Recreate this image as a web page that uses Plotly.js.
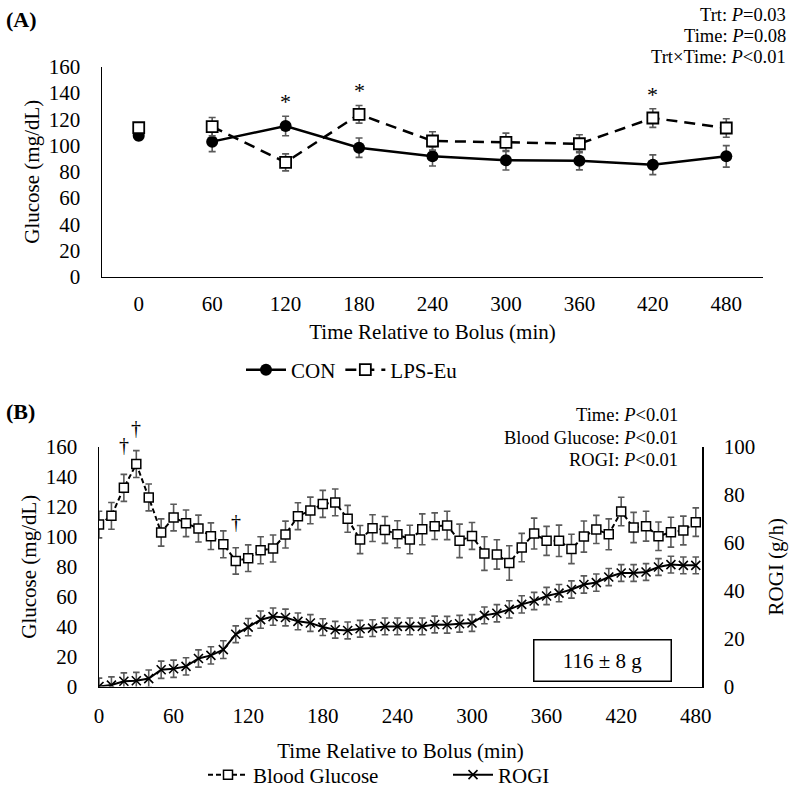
<!DOCTYPE html>
<html>
<head>
<meta charset="utf-8">
<script src="https://cdn.plot.ly/plotly-3.0.1.min.js"></script>
<style>html,body{margin:0;padding:0;background:#fff}#chart{width:794px;height:788px}</style>
</head>
<body>
<div id="chart"></div>
<script>
// ---------- Panel A data ----------
const timeA = [60, 120, 180, 240, 300, 360, 420, 480];
const tickA = [0, 60, 120, 180, 240, 300, 360, 420, 480];
const conBase = 107.4, conBaseErr = 3;
const lpsBase = 113.5, lpsBaseErr = 3;
const conMean = [102.9, 114.8, 98.3, 91.7, 88.7, 88.4, 85.3, 91.7];
const conErr  = [7.6, 7.4, 7.4, 7.4, 7.4, 7.0, 7.5, 8.2];
const lpsMean = [114.3, 87.1, 123.7, 103.4, 102.4, 101.3, 120.9, 113.3];
const lpsErr  = [7.0, 6.5, 6.7, 7.0, 7.0, 6.9, 7.1, 7.0];
const starTimes = [120, 180, 420];
const starY = [133.5, 142, 138.5];

// ---------- Panel B data ----------
const timeB = [0,10,20,30,40,50,60,70,80,90,100,110,120,130,140,150,160,170,180,190,200,210,220,230,240,250,260,270,280,290,300,310,320,330,340,350,360,370,380,390,400,410,420,430,440,450,460,470,480];
const bgMean = [108.2,114,132.7,148.6,126.3,102.9,112.9,109,105.5,100.4,95,83.9,85.7,91,92.2,101.5,113.8,117.6,122,123,112,98.2,105.8,104.6,101.7,98.2,105,107.1,107.6,97.3,100.6,88.8,88.2,82.5,92.8,102.2,97.3,97.3,91.9,100.2,104.9,101.7,116.9,106.2,107.1,100.4,103.1,104.2,109.8];
const bgErr  = [8.9,8.9,9,9,9,9.1,8.9,8.9,9,8.9,9,8.8,8.9,9,9,9,9,8.9,9,8.9,9,9.4,8.9,9,9,9.5,10.3,8.9,9.5,11.2,9,11.2,9.8,11.5,9.5,10.3,9.7,10.5,9.8,10.4,9.4,10.3,9.5,10.1,10,9.5,10,9.6,9.5];
const rogiMean = [0,0.6,2.2,2.4,3.3,7,7.4,8.4,11.7,13,15.4,21.8,24.8,27.9,29.2,28.8,27.2,26.5,24.8,23.7,23.4,24.1,24.4,25.1,25.1,25.1,25.1,25.9,25.8,26.2,26.5,29.7,30.6,32.2,34.3,35.7,37.8,39,40.5,42.6,43.4,45.7,47.4,47.4,47.8,49.9,50.9,50.6,50.6];
const rogiErr  = [3.5,3.4,3.5,3.5,3.6,3.6,3.6,3.6,3.6,3.6,3.7,3.5,3.6,3.6,3.6,3.5,3.5,3.5,3.5,3.5,3.5,3.5,3.5,3.5,3.5,3.5,3.5,3.5,3.5,3.5,3.5,3.5,3.6,3.6,3.6,3.6,3.6,3.6,3.6,3.6,3.6,3.6,3.5,3.5,3.5,3.5,3.5,3.5,3.5];
const daggerTimes = [20, 30, 110];
const daggerY = [159, 159, 110];
const daggerLift = [4, 21, 0];
const totalLabel = "116 ± 8 g";

// ---------- styling ----------
const FONT = "Liberation Serif, Times New Roman, serif";
const ERRC = "#5a5a5a";
const W = 794, H = 788;
const px = v => v / W;
const py = v => 1 - v / H;

function eb(arr, w) { return {type: "data", array: arr, visible: true, color: ERRC, thickness: 1.6, width: w}; }

const traces = [
  // Panel A
  {x: [0], y: [conBase], error_y: eb([conBaseErr], 3.5), mode: "markers", type: "scatter",
   marker: {symbol: "circle", size: 12, color: "#000"}, xaxis: "x", yaxis: "y", showlegend: false},
  {x: timeA, y: conMean, error_y: eb(conErr, 3.5), mode: "lines+markers", type: "scatter", name: "CON",
   line: {color: "#000", width: 2.5}, marker: {symbol: "circle", size: 12, color: "#000"},
   xaxis: "x", yaxis: "y", legend: "legend"},
  {x: [0], y: [lpsBase], error_y: eb([lpsBaseErr], 3.5), mode: "markers", type: "scatter",
   marker: {symbol: "square", size: 11, color: "#fff", line: {color: "#000", width: 1.8}}, xaxis: "x", yaxis: "y", showlegend: false},
  {x: timeA, y: lpsMean, error_y: eb(lpsErr, 3.5), mode: "lines+markers", type: "scatter", name: "LPS-Eu",
   line: {color: "#000", width: 2.5, dash: "11px,7px"},
   marker: {symbol: "square", size: 11, color: "#fff", line: {color: "#000", width: 1.8}},
   xaxis: "x", yaxis: "y", legend: "legend"},
  // Panel B
  {x: timeB, y: rogiMean, error_y: eb(rogiErr, 3.3), mode: "lines+markers", type: "scatter", name: "ROGI",
   line: {color: "#000", width: 2}, marker: {symbol: "x-thin", size: 9, color: "#000", line: {color: "#000", width: 1.6}},
   xaxis: "x2", yaxis: "y3", legend: "legend2"},
  {x: timeB, y: bgMean, error_y: eb(bgErr, 3.3), mode: "lines+markers", type: "scatter", name: "Blood Glucose",
   line: {color: "#000", width: 2, dash: "5px,3px"},
   marker: {symbol: "square", size: 9, color: "#fff", line: {color: "#000", width: 1.5}},
   xaxis: "x2", yaxis: "y2", legend: "legend2"}
];

const annotations = [];
starTimes.forEach((t, i) => annotations.push({x: t, y: starY[i], xref: "x", yref: "y", text: "*", showarrow: false,
  font: {family: FONT, size: 22, color: "#000"}}));
daggerTimes.forEach((t, i) => annotations.push({x: t, y: daggerY[i], yshift: daggerLift[i], xref: "x2", yref: "y2", text: "†", showarrow: false,
  font: {family: FONT, size: 20, color: "#000"}}));
const pFont = {family: FONT, size: 18.5, color: "#000"};
annotations.push(
  {x: px(4), y: py(20), xref: "paper", yref: "paper", xanchor: "left", yanchor: "middle", text: "<b>(A)</b>", showarrow: false, font: {family: FONT, size: 22, color: "#000"}},
  {x: px(4), y: py(411), xref: "paper", yref: "paper", xanchor: "left", yanchor: "middle", text: "<b>(B)</b>", showarrow: false, font: {family: FONT, size: 22, color: "#000"}},
  {x: px(788), y: py(15), xref: "paper", yref: "paper", xanchor: "right", yanchor: "middle", text: "Trt: <i>P</i>=0.03", showarrow: false, font: pFont},
  {x: px(788), y: py(36), xref: "paper", yref: "paper", xanchor: "right", yanchor: "middle", text: "Time: <i>P</i>=0.08", showarrow: false, font: pFont},
  {x: px(788), y: py(57), xref: "paper", yref: "paper", xanchor: "right", yanchor: "middle", text: "Trt×Time: <i>P</i><0.01", showarrow: false, font: pFont},
  {x: px(680), y: py(415), xref: "paper", yref: "paper", xanchor: "right", yanchor: "middle", text: "Time: <i>P</i><0.01", showarrow: false, font: pFont},
  {x: px(680), y: py(438), xref: "paper", yref: "paper", xanchor: "right", yanchor: "middle", text: "Blood Glucose: <i>P</i><0.01", showarrow: false, font: pFont},
  {x: px(680), y: py(460), xref: "paper", yref: "paper", xanchor: "right", yanchor: "middle", text: "ROGI: <i>P</i><0.01", showarrow: false, font: pFont},
  {x: px(602), y: py(660.5), xref: "paper", yref: "paper", xanchor: "center", yanchor: "middle", text: totalLabel, showarrow: false,
   font: {family: FONT, size: 21, color: "#000"}, bordercolor: "#000", borderwidth: 1.5, borderpad: 7, width: 122, height: 26, bgcolor: "#fff"}
);

const axFont = {family: FONT, size: 21, color: "#000"};
const legFont = {family: FONT, size: 21, color: "#000"};
const layout = {
  width: W, height: H,
  margin: {l: 0, r: 0, t: 0, b: 0, autoexpand: false},
  paper_bgcolor: "#fff", plot_bgcolor: "rgba(0,0,0,0)",
  font: {family: FONT, color: "#000"},
  xaxis: {domain: [px(102), px(763)], range: [-30, 510], tickvals: tickA, ticktext: tickA.map(String),
    showline: true, linecolor: "#000", linewidth: 1.5, showgrid: false, zeroline: false, ticks: "",
    tickfont: axFont, ticklabelstandoff: 8,
    title: {text: "Time Relative to Bolus (min)", font: axFont, standoff: 9}, anchor: "y"},
  yaxis: {domain: [py(276.7), py(66.7)], range: [0, 160], dtick: 20, showline: true, linecolor: "#000", linewidth: 1.5,
    showgrid: false, zeroline: false, ticks: "", tickfont: axFont, ticklabelstandoff: 16,
    title: {text: "Glucose (mg/dL)", font: axFont, standoff: 3}, anchor: "x"},
  xaxis2: {domain: [px(99), px(702)], range: [0, 485], tickvals: tickA, ticktext: tickA.map(String),
    showline: true, linecolor: "#000", linewidth: 1.5, showgrid: false, zeroline: false, ticks: "",
    tickfont: axFont, ticklabelstandoff: 10,
    title: {text: "Time Relative to Bolus (min)", font: axFont, standoff: 16}, anchor: "y2"},
  yaxis2: {domain: [py(686.5), py(447)], range: [0, 160], dtick: 20, showline: true, linecolor: "#000", linewidth: 1.5,
    showgrid: false, zeroline: false, ticks: "", tickfont: axFont, ticklabelstandoff: 16,
    title: {text: "Glucose (mg/dL)", font: axFont, standoff: 3}, anchor: "x2"},
  yaxis3: {domain: [py(686.5), py(447)], range: [0, 100], dtick: 20, overlaying: "y2", side: "right", anchor: "x2",
    showline: true, linecolor: "#000", linewidth: 1.5, showgrid: false, zeroline: false, ticks: "",
    tickfont: axFont, ticklabelstandoff: 16, title: {text: "ROGI (g/h)", font: axFont, standoff: 14}},
  legend: {orientation: "h", x: px(352), xanchor: "center", y: py(370), yanchor: "middle",
    font: legFont, bgcolor: "rgba(0,0,0,0)", itemwidth: 40, traceorder: "normal"},
  legend2: {orientation: "h", x: px(203), xanchor: "left", y: py(775), yanchor: "middle", entrywidth: 190,
    font: legFont, bgcolor: "rgba(0,0,0,0)", itemwidth: 40, traceorder: "reversed"},
  annotations: annotations,
  showlegend: true
};

Plotly.newPlot("chart", traces, layout, {displayModeBar: false, staticPlot: true});
</script>
</body>
</html>
